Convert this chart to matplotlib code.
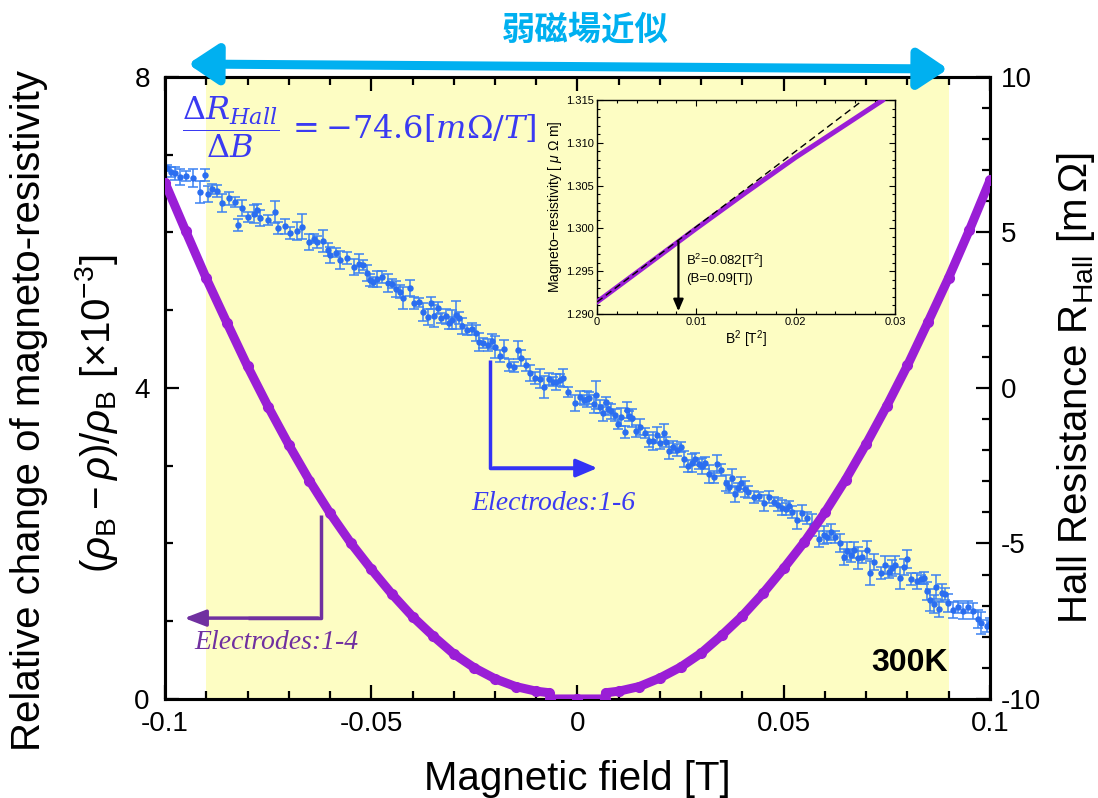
import matplotlib
matplotlib.use("Agg")
import matplotlib.pyplot as plt
from matplotlib.patches import FancyArrowPatch
from matplotlib.ticker import MultipleLocator, FixedLocator, FuncFormatter

plt.rcParams['font.family'] = ['Liberation Sans', 'DejaVu Sans']
plt.rcParams['axes.unicode_minus'] = False
plt.rcParams['mathtext.fontset'] = 'custom'
plt.rcParams['mathtext.rm'] = 'Liberation Sans'
plt.rcParams['mathtext.it'] = 'Liberation Sans:italic'
plt.rcParams['mathtext.bf'] = 'Liberation Sans:bold'

# ---- magneto-resistivity (electrodes 1-4), left axis [x10^-3] ----
mr_field = [-0.100, -0.095, -0.090, -0.085, -0.080, -0.075, -0.070, -0.065,
            -0.060, -0.055, -0.050, -0.045, -0.040, -0.035, -0.030, -0.025,
            -0.020, -0.015, -0.010, -0.0068, -0.0066, 0.0, 0.0066, 0.0068,
            0.010, 0.015, 0.020, 0.025, 0.030, 0.035, 0.040, 0.045,
            0.050, 0.055, 0.060, 0.065, 0.070, 0.075, 0.080, 0.085,
            0.090, 0.095, 0.100]
mr_value = [6.64, 6.02, 5.41, 4.84, 4.28, 3.76, 3.27, 2.81,
            2.39, 2.01, 1.67, 1.35, 1.06, 0.81, 0.58, 0.40,
            0.26, 0.16, 0.10, 0.08, 0.0, 0.0, 0.0, 0.08,
            0.10, 0.16, 0.27, 0.41, 0.59, 0.82, 1.07, 1.36,
            1.68, 2.02, 2.40, 2.82, 3.28, 3.77, 4.29, 4.85,
            5.42, 6.03, 6.67]

# ---- Hall resistance (electrodes 1-6), right axis [mOhm] ----
hall_field = [
    -0.0995, -0.0985, -0.0975, -0.0964, -0.0950, -0.0932, -0.0915, -0.0903, -0.0896, -0.0885,
    -0.0874, -0.0861, -0.0845, -0.0830, -0.0823, -0.0813, -0.0798, -0.0785, -0.0776, -0.0769,
    -0.0750, -0.0733, -0.0725, -0.0710, -0.0696, -0.0680, -0.0667, -0.0652, -0.0640, -0.0631,
    -0.0616, -0.0605, -0.0599, -0.0585, -0.0575, -0.0558, -0.0543, -0.0530, -0.0519, -0.0510,
    -0.0502, -0.0495, -0.0485, -0.0473, -0.0460, -0.0450, -0.0439, -0.0430, -0.0422, -0.0407,
    -0.0397, -0.0385, -0.0375, -0.0363, -0.0354, -0.0349, -0.0339, -0.0332, -0.0320, -0.0312,
    -0.0305, -0.0295, -0.0288, -0.0281, -0.0267, -0.0255, -0.0247, -0.0240, -0.0228, -0.0218,
    -0.0208, -0.0199, -0.0189, -0.0177, -0.0165, -0.0155, -0.0145, -0.0136, -0.0126, -0.0116,
    -0.0104, -0.0092, -0.0080, -0.0068, -0.0060, -0.0051, -0.0042, -0.0034, -0.0022, -0.0007,
    0.0005, 0.0015, 0.0023, 0.0029, 0.0041, 0.0046, 0.0055, 0.0061, 0.0068, 0.0075,
    0.0082, 0.0090, 0.0097, 0.0105, 0.0114, 0.0119, 0.0125, 0.0131, 0.0141, 0.0151,
    0.0163, 0.0173, 0.0182, 0.0192, 0.0200, 0.0209, 0.0214, 0.0221, 0.0231, 0.0241,
    0.0250, 0.0258, 0.0268, 0.0277, 0.0285, 0.0294, 0.0301, 0.0309, 0.0318, 0.0331,
    0.0338, 0.0348, 0.0360, 0.0367, 0.0374, 0.0382, 0.0390, 0.0397, 0.0405, 0.0414,
    0.0428, 0.0440, 0.0452, 0.0464, 0.0476, 0.0485, 0.0495, 0.0505, 0.0512, 0.0520,
    0.0532, 0.0545, 0.0557, 0.0569, 0.0586, 0.0598, 0.0605, 0.0614, 0.0624, 0.0636,
    0.0646, 0.0653, 0.0663, 0.0670, 0.0679, 0.0690, 0.0701, 0.0708, 0.0720, 0.0735,
    0.0745, 0.0755, 0.0762, 0.0769, 0.0782, 0.0791, 0.0799, 0.0809, 0.0823, 0.0832,
    0.0840, 0.0848, 0.0855, 0.0865, 0.0870, 0.0877, 0.0884, 0.0892, 0.0899, 0.0911,
    0.0923, 0.0935, 0.0947, 0.0960, 0.0970, 0.0979, 0.0992, 0.1000]
hall_value = [
    7.07, 6.95, 6.90, 6.78, 6.82, 6.75, 6.30, 6.85, 6.24, 6.40,
    6.33, 5.95, 6.10, 5.98, 5.24, 5.79, 5.50, 5.60, 5.72, 5.47,
    5.40, 5.66, 5.14, 5.20, 4.98, 5.05, 5.18, 4.69, 4.80, 4.69,
    4.73, 4.45, 4.28, 4.35, 4.12, 4.18, 3.89, 4.00, 3.95, 3.70,
    3.47, 3.41, 3.50, 3.57, 3.38, 3.35, 3.18, 3.10, 2.89, 3.22,
    2.73, 2.75, 2.44, 2.28, 2.73, 2.31, 2.57, 2.25, 2.30, 2.09,
    2.20, 2.35, 2.25, 1.99, 1.86, 1.90, 1.77, 1.48, 1.45, 1.38,
    1.50, 1.32, 1.03, 1.25, 0.74, 0.68, 1.22, 0.96, 0.74, 0.48,
    0.32, 0.30, 0.03, 0.29, 0.20, 0.19, 0.25, 0.32, -0.13, -0.48,
    -0.30, -0.39, -0.35, -0.32, -0.51, -0.22, -0.60, -0.80, -0.45, -0.67,
    -0.75, -0.87, -1.16, -0.93, -1.41, -0.71, -0.90, -0.96, -1.38, -1.25,
    -1.45, -1.70, -1.70, -1.51, -1.77, -1.45, -1.74, -2.03, -1.90, -1.99,
    -1.90, -2.28, -2.51, -2.41, -2.28, -2.44, -2.50, -2.41, -2.77, -2.86,
    -2.44, -2.64, -3.05, -3.18, -2.89, -3.41, -3.20, -3.05, -3.25, -3.34,
    -3.50, -3.48, -3.70, -3.50, -3.66, -3.75, -3.85, -3.90, -3.80, -3.99,
    -4.24, -4.02, -4.18, -4.41, -4.86, -4.73, -4.79, -4.63, -4.79, -4.98,
    -5.43, -5.24, -5.38, -5.21, -5.47, -5.44, -5.21, -5.95, -5.59, -5.95,
    -5.69, -5.92, -5.78, -5.69, -6.11, -5.76, -5.50, -6.14, -6.21, -6.15,
    -6.11, -6.53, -6.82, -6.95, -6.40, -7.11, -6.59, -6.62, -6.91, -7.14,
    -7.04, -7.17, -7.04, -7.17, -7.43, -7.56, -7.65, -7.56]
hall_err = [
    0.10, 0.15, 0.20, 0.25, 0.15, 0.30, 0.35, 0.20, 0.25, 0.15,
    0.20, 0.30, 0.20, 0.15, 0.20, 0.25, 0.15, 0.30, 0.20, 0.25,
    0.15, 0.35, 0.20, 0.25, 0.20, 0.30, 0.40, 0.25, 0.15, 0.20,
    0.35, 0.20, 0.25, 0.15, 0.30, 0.20, 0.25, 0.30, 0.15, 0.25,
    0.20, 0.15, 0.25, 0.20, 0.30, 0.15, 0.25, 0.20, 0.35, 0.25,
    0.20, 0.15, 0.30, 0.25, 0.20, 0.35, 0.20, 0.15, 0.25, 0.20,
    0.30, 0.45, 0.20, 0.25, 0.15, 0.20, 0.25, 0.30, 0.15, 0.20,
    0.25, 0.35, 0.20, 0.30, 0.20, 0.15, 0.30, 0.25, 0.20, 0.25,
    0.20, 0.30, 0.35, 0.20, 0.15, 0.25, 0.20, 0.30, 0.15, 0.25,
    0.20, 0.15, 0.25, 0.20, 0.30, 0.45, 0.20, 0.25, 0.15, 0.20,
    0.25, 0.20, 0.15, 0.30, 0.20, 0.25, 0.15, 0.30, 0.20, 0.25,
    0.15, 0.20, 0.30, 0.25, 0.20, 0.30, 0.15, 0.25, 0.20, 0.20,
    0.15, 0.25, 0.20, 0.30, 0.20, 0.15, 0.25, 0.20, 0.30, 0.20,
    0.30, 0.20, 0.25, 0.20, 0.30, 0.25, 0.15, 0.20, 0.25, 0.20,
    0.20, 0.15, 0.25, 0.20, 0.15, 0.20, 0.25, 0.20, 0.15, 0.20,
    0.30, 0.25, 0.20, 0.35, 0.25, 0.30, 0.20, 0.25, 0.20, 0.30,
    0.25, 0.30, 0.20, 0.25, 0.35, 0.20, 0.30, 0.40, 0.25, 0.20,
    0.30, 0.20, 0.25, 0.30, 0.35, 0.25, 0.30, 0.20, 0.25, 0.15,
    0.20, 0.30, 0.35, 0.30, 0.40, 0.25, 0.30, 0.20, 0.30, 0.25,
    0.20, 0.25, 0.20, 0.25, 0.30, 0.35, 0.20, 0.15]

# ---- inset: resistivity vs B^2 ----
inset_b2 = [0.0, 0.005, 0.010, 0.015, 0.020, 0.025, 0.0288]
inset_rho = [1.2914, 1.2957, 1.3000, 1.3042, 1.3083, 1.3121, 1.3150]
inset_fit_b2 = [0.0, 0.0268]
inset_fit_rho = [1.2914, 1.3150]
b2_threshold = 0.0082

PURPLE = '#9A1ED6'
PURPLE_DARK = '#7030A0'
BLUE = '#2B6EF0'
BLUE_TEXT = '#3A3AF2'
CYAN = '#00B0F0'
BAND = '#FDFDC3'

fig = plt.figure(figsize=(10.98, 7.98), dpi=100)
fig.patch.set_facecolor('white')

ax2 = fig.add_axes([0.1503, 0.1241, 0.7513, 0.7794])
ax = ax2.twinx()
ax.set_zorder(ax2.get_zorder() + 1)
ax.patch.set_visible(False)

ax2.axvspan(-0.09, 0.09, color=BAND, lw=0, zorder=0)
ax2.errorbar(hall_field, hall_value, yerr=hall_err, fmt='o', ms=3.6,
             color=BLUE, ecolor='#3C82F2', elinewidth=1.1, capsize=3.4,
             capthick=1.1, zorder=3)

ax.plot(mr_field, mr_value, color=PURPLE, lw=6.5, marker='o', ms=7,
        solid_capstyle='round', solid_joinstyle='round', zorder=4)

ax2.set_xlim(-0.1, 0.1)
ax2.set_ylim(-10, 10)
ax.set_ylim(0, 8)

# purple data lives on the twin, whose scale belongs on the left side
ax.yaxis.set_label_position('left')
ax.yaxis.tick_left()
ax2.yaxis.set_label_position('right')
ax2.yaxis.tick_right()

fmt = FuncFormatter(lambda v, p: f'{v:g}')
ax2.xaxis.set_major_locator(FixedLocator([-0.1, -0.05, 0, 0.05, 0.1]))
ax2.xaxis.set_minor_locator(MultipleLocator(0.01))
ax2.xaxis.set_major_formatter(fmt)
ax.yaxis.set_major_locator(FixedLocator([0, 4, 8]))
ax.yaxis.set_minor_locator(MultipleLocator(1))
ax.yaxis.set_major_formatter(fmt)
ax2.yaxis.set_major_locator(MultipleLocator(5))
ax2.yaxis.set_minor_locator(MultipleLocator(1))
ax2.yaxis.set_major_formatter(fmt)

for a in (ax, ax2):
    a.tick_params(which='both', direction='in', width=1.6, labelsize=20)
    a.tick_params(which='major', length=10, pad=8)
    a.tick_params(which='minor', length=6)
    for s in a.spines.values():
        s.set_linewidth(2.2)
ax.tick_params(axis='y', which='major', pad=11)
ax2.tick_params(axis='x', which='both', top=True, bottom=True)
ax2.tick_params(axis='x', which='major', pad=9)
ax.tick_params(axis='x', which='both', bottom=False, top=False, labelbottom=False)

ax2.set_xlabel('Magnetic field [T]', fontsize=29, labelpad=16)
ax2.set_ylabel(r'Hall Resistance R$_{\rm Hall}$ [m$\,\Omega$]', fontsize=29, labelpad=10)

fig.text(0.026, 0.486, 'Relative change of magneto-resistivity', rotation=90,
         fontsize=29, ha='center', va='center')
fig.text(0.088, 0.481, r'$(\rho_{\rm B}-\rho)/\rho_{\rm B}\ [\times10^{-3}]$',
         rotation=90, fontsize=29, ha='center', va='center')

# annotations in the left-axis frame
ax.text(-0.0958, 7.35, r'$\dfrac{\Delta R_{Hall}}{\Delta B}\,=-74.6[m\Omega/T]$',
        color=BLUE_TEXT, fontsize=23, math_fontfamily='dejavuserif',
        ha='left', va='center', zorder=6)

ax.plot([-0.0211, -0.0211, 0.0], [4.36, 2.97, 2.97], color='#3333F5', lw=2.5,
        solid_capstyle='butt', zorder=5)
ax.annotate('', xy=(0.0055, 2.97), xytext=(-0.0211, 2.97),
            arrowprops=dict(arrowstyle='-|>,head_length=1.3,head_width=0.55',
                            color='#3333F5', lw=2.5), zorder=5)
ax.text(-0.0058, 2.52, 'Electrodes:1-6', color=BLUE_TEXT, fontsize=20,
        family='Liberation Serif', style='italic', ha='center', va='center',
        zorder=6)

ax.plot([-0.0622, -0.0622, -0.080], [2.37, 1.04, 1.04], color=PURPLE_DARK,
        lw=2.5, solid_capstyle='butt', zorder=5)
ax.annotate('', xy=(-0.0960, 1.04), xytext=(-0.0622, 1.04),
            arrowprops=dict(arrowstyle='-|>,head_length=1.3,head_width=0.5',
                            color=PURPLE_DARK, lw=2.5), zorder=5)
ax.text(-0.0731, 0.73, 'Electrodes:1-4', color=PURPLE_DARK, fontsize=20,
        family='Liberation Serif', style='italic', ha='center', va='center',
        zorder=6)

ax.text(0.0897, 0.46, '300K', fontsize=23, weight='bold', ha='right',
        va='center', zorder=6)

# weak-field range arrow and caption
arrow = FancyArrowPatch((188 / 1098, 1 - 64 / 798), (948 / 1098, 1 - 69 / 798),
                        transform=fig.transFigure,
                        arrowstyle='<|-|>,head_length=18,head_width=12',
                        mutation_scale=1, color=CYAN, lw=6.5,
                        shrinkA=0, shrinkB=0)
fig.patches.append(arrow)
fig.text(585 / 1098, 1 - 30 / 798, '弱磁場近似', color=CYAN, fontsize=24,
         weight='bold', family=['Noto Sans CJK JP', 'DejaVu Sans'],
         ha='center', va='center')

# inset
axi = fig.add_axes([0.5437, 0.6065, 0.2714, 0.2682])
axi.set_zorder(ax.get_zorder() + 2)
axi.patch.set_facecolor(BAND)
axi.plot(inset_b2, inset_rho, color=PURPLE, lw=3.6, solid_capstyle='round',
         zorder=3)
axi.plot(inset_fit_b2, inset_fit_rho, color='black', lw=1.0, ls=(0, (5, 3)),
         zorder=4)
axi.annotate('', xy=(b2_threshold, 1.2900), xytext=(b2_threshold, 1.2988),
             arrowprops=dict(arrowstyle='-|>,head_length=0.7,head_width=0.3',
                             color='black', lw=1.6))
axi.text(b2_threshold + 0.0008, 1.2953, 'B$^2$=0.082[T$^2$]\n(B=0.09[T])',
         fontsize=9.5, ha='left', va='center', linespacing=1.3)
axi.set_xlim(0, 0.03)
axi.set_ylim(1.290, 1.315)
axi.xaxis.set_major_locator(MultipleLocator(0.01))
axi.xaxis.set_minor_locator(MultipleLocator(0.002))
axi.yaxis.set_major_locator(MultipleLocator(0.005))
axi.yaxis.set_minor_locator(MultipleLocator(0.001))
axi.xaxis.set_major_formatter(FuncFormatter(lambda v, p: f'{v:g}'))
axi.yaxis.set_major_formatter(FuncFormatter(lambda v, p: f'{v:.3f}'))
axi.tick_params(which='both', direction='in', top=True, right=True,
                labelsize=8, width=0.8, pad=2)
axi.tick_params(which='major', length=4)
axi.tick_params(which='minor', length=2)
for s in axi.spines.values():
    s.set_linewidth(1.0)
axi.set_xlabel('B$^2$ [T$^2$]', fontsize=10, labelpad=1)
axi.set_ylabel('Magneto\u2212resistivity [ $\\mu$ $\\Omega$ m]', fontsize=10,
               labelpad=2)

fig.savefig('out.png', dpi=100)
